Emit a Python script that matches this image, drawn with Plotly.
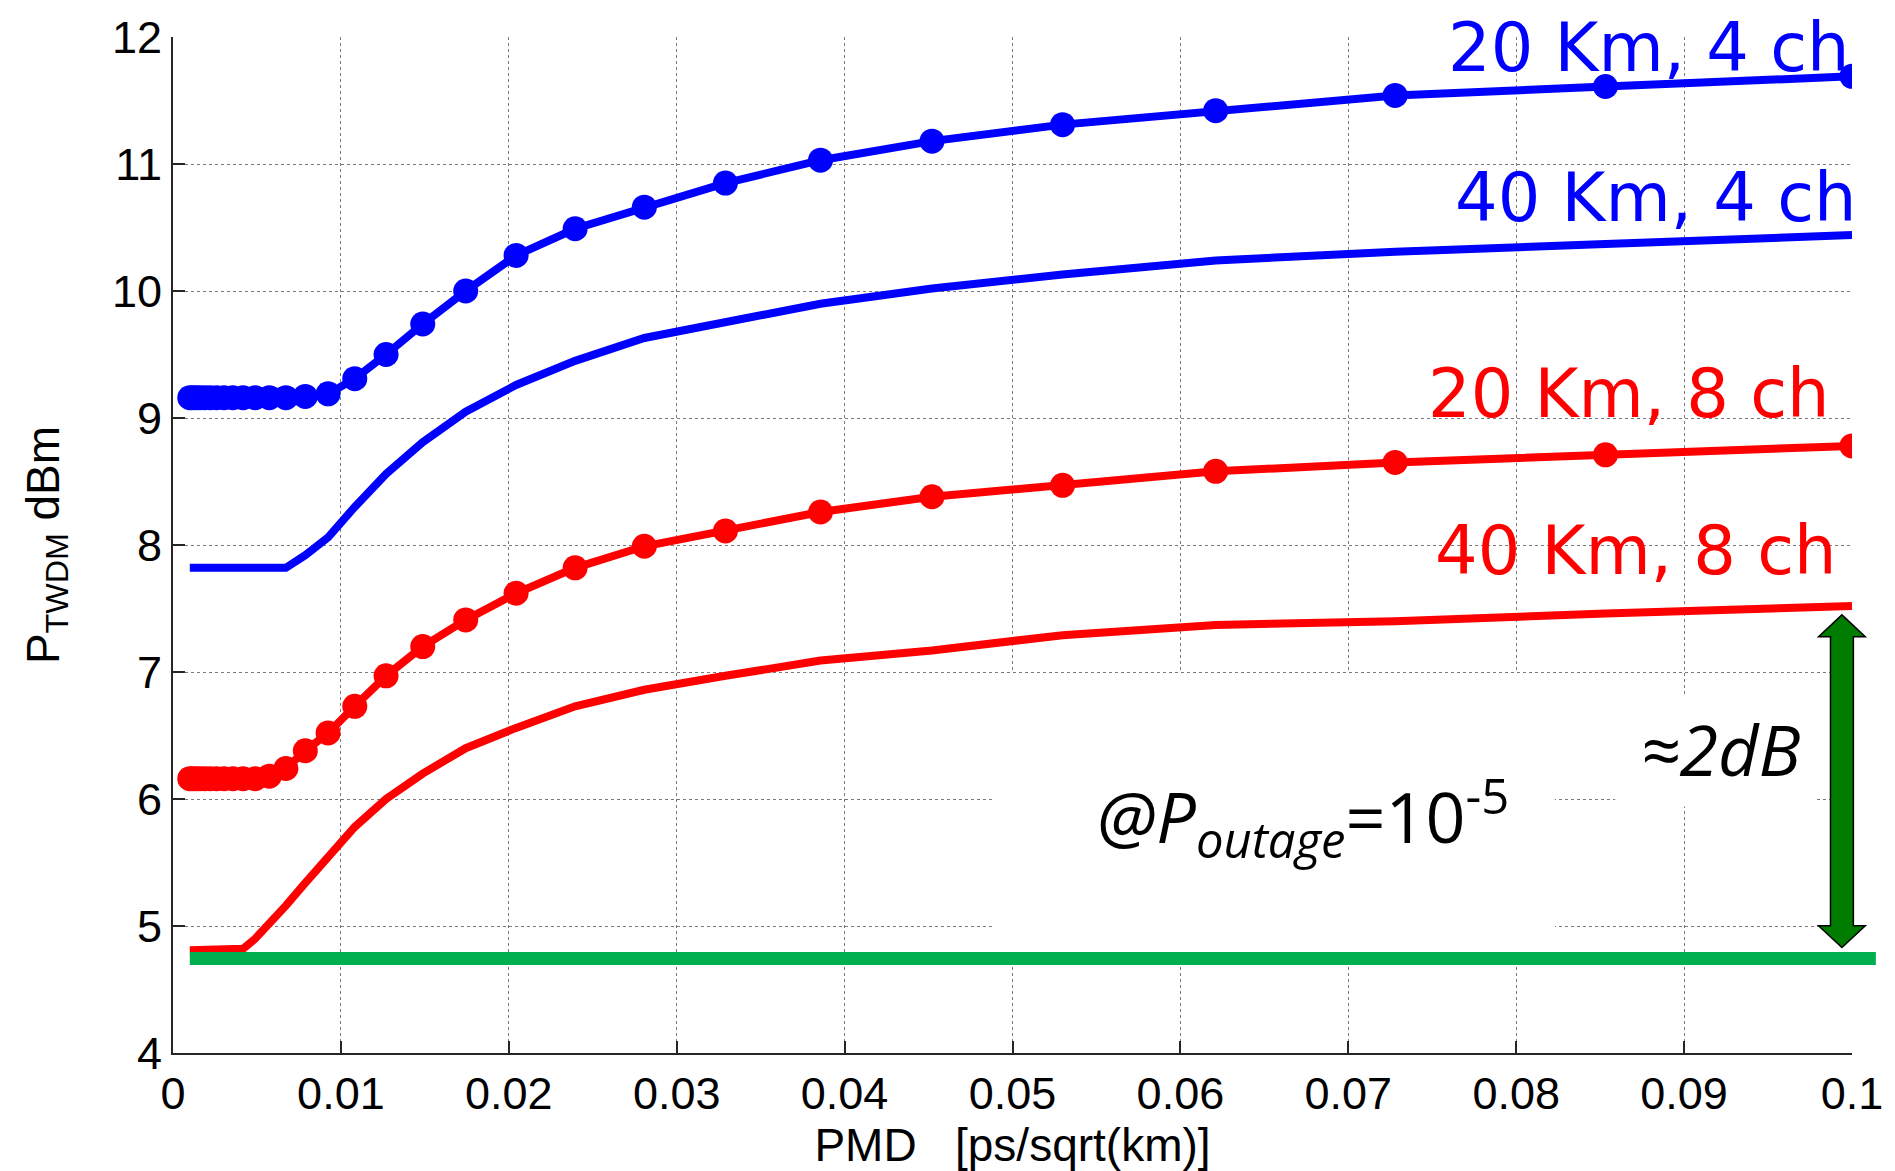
import plotly.graph_objects as go

# ---------------- data ----------------
pmd = [0.001, 0.001172, 0.001374, 0.00161, 0.001887, 0.002212, 0.002593, 0.003039,
       0.003562, 0.004175, 0.004894, 0.005736, 0.006723, 0.00788, 0.009237, 0.010826,
       0.01269, 0.014874, 0.017433, 0.020434, 0.02395, 0.028072, 0.032903, 0.038566,
       0.045204, 0.052983, 0.062102, 0.07279, 0.085317, 0.1]

p_20km_4ch = [9.16, 9.16, 9.16, 9.16, 9.16, 9.16, 9.16, 9.16, 9.16, 9.16, 9.16, 9.16, 9.16,
              9.17, 9.19, 9.31, 9.50, 9.74, 10.00, 10.28, 10.49, 10.66, 10.85, 11.03,
              11.18, 11.31, 11.42, 11.54, 11.61, 11.69]
p_40km_4ch = [7.82, 7.82, 7.82, 7.82, 7.82, 7.82, 7.82, 7.82, 7.82, 7.82, 7.82, 7.82, 7.82,
              7.92, 8.06, 8.30, 8.56, 8.81, 9.05, 9.26, 9.45, 9.63, 9.76, 9.90,
              10.02, 10.13, 10.24, 10.31, 10.37, 10.44]
p_20km_8ch = [6.16, 6.16, 6.16, 6.16, 6.16, 6.16, 6.16, 6.16, 6.16, 6.16, 6.16, 6.18, 6.24,
              6.38, 6.52, 6.73, 6.97, 7.20, 7.41, 7.62, 7.82, 7.99, 8.11, 8.26,
              8.38, 8.47, 8.58, 8.65, 8.71, 8.78]
p_40km_8ch = [4.81, 4.81, 4.81, 4.81, 4.81, 4.81, 4.81, 4.81, 4.81, 4.82, 4.90, 5.01, 5.16,
              5.34, 5.55, 5.78, 6.00, 6.20, 6.40, 6.56, 6.73, 6.86, 6.97, 7.09,
              7.17, 7.29, 7.37, 7.40, 7.46, 7.52]

series_labels = ["20 Km, 4 ch", "40 Km, 4 ch", "20 Km, 8 ch", "40 Km, 8 ch"]
reference_level = 4.745          # green reference line (dBm)
ref_line_start = 0.001
arrow_x = 0.0994                 # position of the ≈2dB double arrow
arrow_top = 7.45
arrow_bottom = 4.83

x_ticks = [0, 0.01, 0.02, 0.03, 0.04, 0.05, 0.06, 0.07, 0.08, 0.09, 0.1]
x_tick_labels = ["0", "0.01", "0.02", "0.03", "0.04", "0.05", "0.06", "0.07", "0.08", "0.09", "0.1"]
y_ticks = [4, 5, 6, 7, 8, 9, 10, 11, 12]
y_tick_labels = ["4", "5", "6", "7", "8", "9", "10", "11", "12"]

X_RANGE = [0, 0.1]
Y_RANGE = [4, 12]

# ---------------- figure ----------------
W, H = 1895, 1171
M_L, M_R, M_T, M_B = 173, 34, 30, 118
PLOT_W = W - M_L - M_R
PLOT_H = H - M_T - M_B

BLUE = "#0000FF"
RED = "#FF0000"
AX_COL = "#262626"
GRID_COL = "#7a7a7a"
AX_FONT = dict(family="Liberation Sans, Arial, sans-serif", size=45, color="black")
TITLE_FONT = dict(family="Liberation Sans, Arial, sans-serif", size=46, color="black")
LBL_FONT = "DejaVu Sans, Verdana, sans-serif"
NOTE_FONT = "Open Sans, sans-serif"


def xp(x):
    return (x - X_RANGE[0]) / (X_RANGE[1] - X_RANGE[0])


def yp(y):
    return (y - Y_RANGE[0]) / (Y_RANGE[1] - Y_RANGE[0])


def px_to_paper_x(p):
    return (p - M_L) / PLOT_W


def px_to_paper_y(p):
    return (H - M_B - p) / PLOT_H


fig = go.Figure()

fig.add_trace(go.Scatter(x=pmd, y=p_40km_8ch, mode="lines", name=series_labels[3],
                         line=dict(color=RED, width=8)))
fig.add_trace(go.Scatter(x=pmd, y=p_20km_8ch, mode="lines+markers", name=series_labels[2],
                         line=dict(color=RED, width=8),
                         marker=dict(color=RED, size=25, symbol="circle")))
fig.add_trace(go.Scatter(x=pmd, y=p_40km_4ch, mode="lines", name=series_labels[1],
                         line=dict(color=BLUE, width=8)))
fig.add_trace(go.Scatter(x=pmd, y=p_20km_4ch, mode="lines+markers", name=series_labels[0],
                         line=dict(color=BLUE, width=8),
                         marker=dict(color=BLUE, size=25, symbol="circle")))

shapes = []
# white text boxes hiding the grid (drawn between grid and traces)
shapes.append(dict(type="rect", xref="x", yref="y", x0=0.0488, x1=0.0823, y0=4.70, y1=6.99,
                   fillcolor="white", line=dict(width=0), layer="between"))
shapes.append(dict(type="rect", xref="x", yref="y", x0=0.0859, x1=0.0979, y0=5.94, y1=6.81,
                   fillcolor="white", line=dict(width=0), layer="between"))

# green reference level
shapes.append(dict(type="line", xref="paper", yref="paper",
                   x0=xp(ref_line_start), x1=1 + 24 / PLOT_W,
                   y0=yp(reference_level), y1=yp(reference_level),
                   line=dict(color="#00B050", width=13), layer="above"))

# double arrow (pixel sizes converted to paper units)
hs = 11.5 / PLOT_W
hh = 23.5 / PLOT_W
hl = 22 / PLOT_H
ax_ = xp(arrow_x)
yt = yp(arrow_top)
yb = yp(arrow_bottom)
path = (f"M {ax_},{yt} L {ax_ + hh},{yt - hl} L {ax_ + hs},{yt - hl} "
        f"L {ax_ + hs},{yb + hl} L {ax_ + hh},{yb + hl} L {ax_},{yb} "
        f"L {ax_ - hh},{yb + hl} L {ax_ - hs},{yb + hl} L {ax_ - hs},{yt - hl} "
        f"L {ax_ - hh},{yt - hl} Z")
shapes.append(dict(type="path", xref="paper", yref="paper", path=path,
                   fillcolor="#007D00", line=dict(color="black", width=1.5), layer="above"))

annotations = []
# (right edge px, vertical centre px, colour) of the curve labels
label_pos = [(1861, 41, BLUE), (1868, 192, BLUE), (1841, 389, RED), (1848, 548, RED)]
for text, (rx, cy, col) in zip(series_labels, label_pos):
    annotations.append(dict(x=px_to_paper_x(rx), y=px_to_paper_y(cy), xref="paper", yref="paper",
                            text=text, showarrow=False, xanchor="right", yanchor="middle",
                            font=dict(family=LBL_FONT, size=67, color=col)))

annotations.append(dict(x=0.0549, y=5.86, xref="x", yref="y",
                        text="<i>@P<sub>outage</sub></i>=10<sup>-5</sup>",
                        showarrow=False, xanchor="left", yanchor="middle",
                        font=dict(family=NOTE_FONT, size=70, color="black")))
annotations.append(dict(x=0.0873, y=6.39, xref="x", yref="y", text="<i>≈2dB</i>",
                        showarrow=False, xanchor="left", yanchor="middle",
                        font=dict(family=NOTE_FONT, size=70, color="black")))

fig.update_layout(
    width=W, height=H,
    margin=dict(l=M_L, r=M_R, t=M_T, b=M_B),
    paper_bgcolor="white", plot_bgcolor="white",
    showlegend=False,
    shapes=shapes,
    annotations=annotations,
    xaxis=dict(range=X_RANGE, tickvals=x_ticks, ticktext=x_tick_labels,
               showline=True, linecolor=AX_COL, linewidth=2,
               ticks="inside", ticklen=12, tickwidth=2, tickcolor=AX_COL,
               showgrid=True, gridcolor=GRID_COL, griddash="dot", gridwidth=1,
               zeroline=False, tickfont=AX_FONT,
               title=dict(text="PMD\u00a0\u00a0\u00a0[ps/sqrt(km)]", font=TITLE_FONT, standoff=8)),
    yaxis=dict(range=Y_RANGE, tickvals=y_ticks, ticktext=y_tick_labels,
               showline=True, linecolor=AX_COL, linewidth=2,
               ticks="inside", ticklen=12, tickwidth=2, tickcolor=AX_COL,
               showgrid=True, gridcolor=GRID_COL, griddash="dot", gridwidth=1,
               zeroline=False, tickfont=AX_FONT,
               title=dict(text="P<sub>TWDM</sub> dBm", font=TITLE_FONT, standoff=38)),
    xaxis2=dict(range=X_RANGE, tickvals=x_ticks, overlaying="x", side="top", anchor="y",
                ticks="inside", ticklen=12, tickwidth=2, tickcolor=AX_COL,
                showticklabels=False, showgrid=False, showline=False, zeroline=False),
    yaxis2=dict(range=Y_RANGE, tickvals=y_ticks, overlaying="y", side="right", anchor="x",
                ticks="inside", ticklen=12, tickwidth=2, tickcolor=AX_COL,
                showticklabels=False, showgrid=False, showline=False, zeroline=False),
)

fig.write_html("out.html")
